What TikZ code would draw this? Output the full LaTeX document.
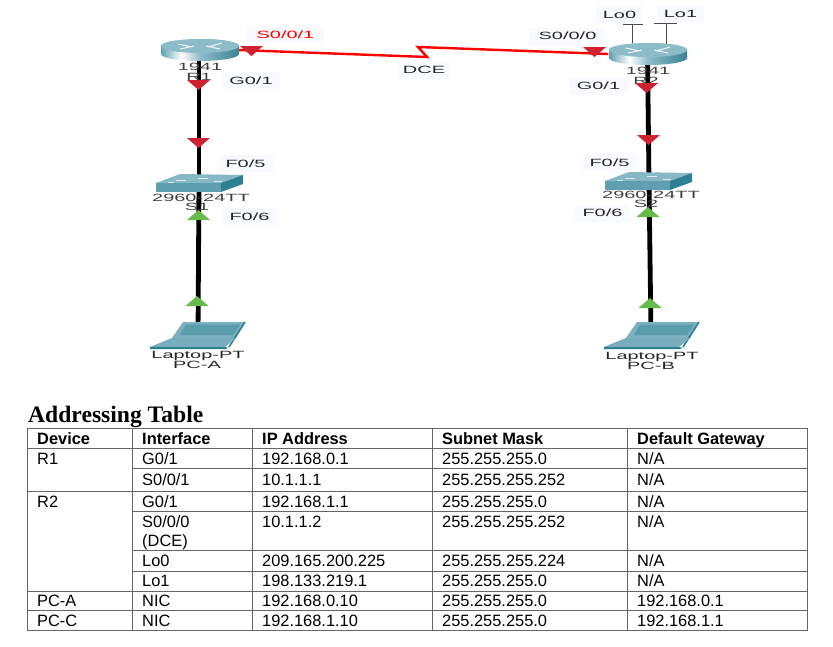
\documentclass[tikz,border=0pt]{standalone}
\usepackage{fontspec}
\setmainfont{Liberation Sans}
\newfontfamily\ptfont[FakeStretch=1.9]{Liberation Sans}
\newfontfamily\titlefont{Liberation Serif}
\definecolor{tealA}{HTML}{5F9FB0}
\definecolor{tealB}{HTML}{3A8294}
\definecolor{tealC}{HTML}{8DBCC9}
\definecolor{tealD}{HTML}{2F7F93}
\definecolor{redtri}{HTML}{CE2233}
\definecolor{greentri}{HTML}{66BB4A}
\definecolor{labelbg}{HTML}{F9FAFE}
\definecolor{gridgrey}{HTML}{666666}
\pgfdeclarehorizontalshading{routerbody}{100bp}{color(0bp)=(tealA); color(25bp)=(tealA); color(38bp)=(white); color(50bp)=(tealC); color(75bp)=(tealB); color(100bp)=(tealB)}
\tikzset{
  dev/.style={minimum width=#1,minimum height=18pt,inner sep=0pt},
  ethlink/.style={line width=4.8pt,black},
  serial/.style={line width=2.4pt,red},
  stub/.style={line width=0.9pt,black!70},
  plabel/.style={font=\ptfont\fontsize{10.5}{12}\selectfont,text=black!85,fill=labelbg,inner sep=0pt,minimum height=17pt},
  dlabel/.style={font=\ptfont\fontsize{10.5}{12}\selectfont,text=black!75,inner sep=0pt},
  cell/.style={font=\fontsize{16.4}{18}\selectfont,anchor=base west,inner sep=0pt},
  head/.style={cell,font=\bfseries\fontsize{16.4}{18}\selectfont},
  grid/.style={gridgrey,line width=0.7pt},
  gridb/.style={gridgrey,line width=1pt},
  mark red/.style={fill=redtri},
  mark green/.style={fill=greentri}
}
\newcommand{\tridown}[2]{\fill[mark red] (#1-11.5,#2-5) -- (#1+11.5,#2-5) -- (#1,#2+5) -- cycle;}
\newcommand{\triup}[2]{\fill[mark green] (#1-11.5,#2+5) -- (#1+11.5,#2+5) -- (#1,#2-5) -- cycle;}
\newcommand{\routericon}[2]{%
  \begin{scope}[shift={(#1,#2)}]
    \shade[shading=routerbody] (-39,-4) -- (-39,4) arc[start angle=180,end angle=360,x radius=39pt,y radius=7pt] -- (39,-4) arc[start angle=0,end angle=180,x radius=39pt,y radius=7pt] -- cycle;
    \fill[tealC] (0,-4) ellipse[x radius=39pt,y radius=7pt];
    \draw[white!85!tealC,line width=1pt] (-22,-6) -- (-8,-3) (22,-7) -- (8,-3) (-20,-1) -- (-6,-4) (20,-1) -- (6,-4);
  \end{scope}}
\newcommand{\switchicon}[2]{%
  \begin{scope}[shift={(#1,#2)}]
    \fill[tealC!85!tealA] (0,9) -- (65,9) -- (87,1) -- (24,0) -- cycle;
    \fill[tealA] (0,9) -- (65,9) -- (65,18) -- (0,18) -- cycle;
    \fill[tealD] (65,9) -- (87,1) -- (87,10) -- (65,18) -- cycle;
    \draw[white!70!tealC,line width=0.7pt] (20,6) -- (30,6) (42,4) -- (52,4) (12,8) -- (18,8) (58,7) -- (66,7);
  \end{scope}}
\newcommand{\laptopicon}[2]{%
  \begin{scope}[shift={(#1,#2)}]
    \fill[tealC!60!tealA] (33,0) -- (95,0) -- (86,16) -- (22,16) -- cycle;
    \fill[tealA!85!tealB] (36,2.5) -- (90,2.5) -- (83,13) -- (30,13) -- cycle;
    \draw[tealD,line width=1.6pt] (95,0) -- (79,25);
    \fill[tealA!85!white] (0,25) -- (22,16) -- (86,16) -- (75,25) -- cycle;
    \fill[tealD] (0,25) -- (75,25) -- (78,25.5) -- (76,27) -- (0,27) -- cycle;
  \end{scope}}
\begin{document}
\begin{tikzpicture}[x=1pt,y=-1pt]
\useasboundingbox (0,0) rectangle (833,646);
\fill[white] (0,0) rectangle (833,646);
% device anchors
\node[dev=78pt] (R1) at (199,50) {};
\node[dev=78pt] (R2) at (647.5,54) {};
\node[dev=87pt] (S1) at (199,183) {};
\node[dev=87pt] (S2) at (649,181) {};
\node[dev=94pt] (PCA) at (198,335) {};
\node[dev=94pt] (PCB) at (651,335) {};
\coordinate (Zig1) at (427,57);
\coordinate (Zig2) at (418,47);
\coordinate (Lo0top) at (632,24);
\coordinate (Lo1top) at (666,23);
\coordinate (Lo0base) at (632,44);
\coordinate (Lo1base) at (666,44);
% connectors
\draw[ethlink] (R1.center) -- (S1.center);
\draw[ethlink] (S1.center) -- (PCA.center);
\draw[ethlink] (R2.center) -- (S2.center);
\draw[ethlink] (S2.center) -- (PCB.center);
\draw[serial,line join=miter] (R1.east) -- (Zig1) -- (Zig2) -- (R2.west);
\draw[stub] (Lo0base) -- (Lo0top) (623,24) -- (643,24);
\draw[stub] (Lo1base) -- (Lo1top) (654,23) -- (677,23);
% icons
\routericon{200}{50}
\routericon{648}{54}
\switchicon{156}{174}
\switchicon{605}{172}
\laptopicon{150}{322}
\laptopicon{604}{322}
% device labels
\node[dlabel] (r1m) at (200,67) {1941};
\node[dlabel] (r1n) at (199,77) {R1};
\node[dlabel] (r2m) at (648,71) {1941};
\node[dlabel] (r2n) at (646,81) {R2};
\node[dlabel] (s1m) at (201,197.5) {2960-24TT};
\node[dlabel] (s1n) at (197,207) {S1};
\node[dlabel] (s2m) at (651,194.5) {2960-24TT};
\node[dlabel] (s2n) at (646,204) {S2};
\node[dlabel,text=black!85] (pam) at (198,355.5) {Laptop-PT};
\node[dlabel,text=black!85] (pan) at (197,364.5) {PC-A};
\node[dlabel,text=black!85] (pbm) at (652,356.5) {Laptop-PT};
\node[dlabel,text=black!85] (pbn) at (651,365.5) {PC-B};
% port labels
\node[plabel,minimum width=77pt,text=red] (l1) at (285.5,34.5) {S0/0/1};
\node[plabel,minimum width=52pt] (l2) at (424,70) {DCE};
\node[plabel,minimum width=58pt] (l3) at (251,80.5) {G0/1};
\node[plabel,minimum width=55pt] (l4) at (245.5,163.5) {F0/5};
\node[plabel,minimum width=55pt] (l5) at (249.5,216.5) {F0/6};
\node[plabel,minimum width=47pt] (l6) at (619.5,14.5) {Lo0};
\node[plabel,minimum width=47pt] (l7) at (680.5,13.5) {Lo1};
\node[plabel,minimum width=77pt] (l8) at (567.5,36) {S0/0/0};
\node[plabel,minimum width=59pt] (l9) at (598.5,85.5) {G0/1};
\node[plabel,minimum width=55pt] (l10) at (609.5,162.5) {F0/5};
\node[plabel,minimum width=55pt] (l11) at (602.5,213) {F0/6};
% port markers
\tridown{251.5}{51}
\tridown{198.5}{85}
\tridown{198.5}{143}
\triup{198.5}{215}
\triup{197}{301}
\tridown{594.5}{52}
\tridown{646.5}{88}
\tridown{648.5}{140}
\triup{648}{212}
\triup{650}{303}
% title
\node[anchor=base west,inner sep=0pt,font=\titlefont\bfseries\fontsize{23.6}{25}\selectfont] (title) at (28,422.5) {Addressing Table};
% table grid
\draw[gridb] (27,428) rectangle (807,630);
\draw[gridb] (132,428) -- (132,630);
\draw[grid] (252,428) -- (252,630) (432,428) -- (432,630) (627,428) -- (627,630);
\draw[grid] (27,448) -- (807,448);
\draw[grid] (132,468) -- (807,468);
\draw[gridb] (27,491) -- (807,491);
\draw[grid] (132,511) -- (807,511);
\draw[grid] (132,550) -- (807,550);
\draw[grid] (132,571) -- (807,571);
\draw[grid] (27,591) -- (807,591);
\draw[grid] (27,610) -- (807,610);
% table text
\node[head] (h1) at (37,444) {Device};
\node[head] (h2) at (142,444) {Interface};
\node[head] (h3) at (262,444) {IP Address};
\node[head] (h4) at (442,444) {Subnet Mask};
\node[head] (h5) at (637,444) {Default Gateway};
\node[cell] (a1) at (37,464) {R1};
\node[cell] (a2) at (142,464) {G0/1};
\node[cell] (a3) at (262,464) {192.168.0.1};
\node[cell] (a4) at (442,464) {255.255.255.0};
\node[cell] (a5) at (637,464) {N/A};
\node[cell] (b2) at (142,485) {S0/0/1};
\node[cell] (b3) at (262,485) {10.1.1.1};
\node[cell] (b4) at (442,485) {255.255.255.252};
\node[cell] (b5) at (637,485) {N/A};
\node[cell] (c1) at (37,507.5) {R2};
\node[cell] (c2) at (142,507.5) {G0/1};
\node[cell] (c3) at (262,507.5) {192.168.1.1};
\node[cell] (c4) at (442,507.5) {255.255.255.0};
\node[cell] (c5) at (637,507.5) {N/A};
\node[cell] (d2) at (142,527) {S0/0/0};
\node[cell] (d2b) at (142,546.6) {(DCE)};
\node[cell] (d3) at (262,527) {10.1.1.2};
\node[cell] (d4) at (442,527) {255.255.255.252};
\node[cell] (d5) at (637,527) {N/A};
\node[cell] (e2) at (142,566.7) {Lo0};
\node[cell] (e3) at (262,566.7) {209.165.200.225};
\node[cell] (e4) at (442,566.7) {255.255.255.224};
\node[cell] (e5) at (637,566.7) {N/A};
\node[cell] (f2) at (142,586.7) {Lo1};
\node[cell] (f3) at (262,586.7) {198.133.219.1};
\node[cell] (f4) at (442,586.7) {255.255.255.0};
\node[cell] (f5) at (637,586.7) {N/A};
\node[cell] (g1) at (37,606.7) {PC-A};
\node[cell] (g2) at (142,606.7) {NIC};
\node[cell] (g3) at (262,606.7) {192.168.0.10};
\node[cell] (g4) at (442,606.7) {255.255.255.0};
\node[cell] (g5) at (637,606.7) {192.168.0.1};
\node[cell] (k1) at (37,626.7) {PC-C};
\node[cell] (k2) at (142,626.7) {NIC};
\node[cell] (k3) at (262,626.7) {192.168.1.10};
\node[cell] (k4) at (442,626.7) {255.255.255.0};
\node[cell] (k5) at (637,626.7) {192.168.1.1};
\end{tikzpicture}
\end{document}
